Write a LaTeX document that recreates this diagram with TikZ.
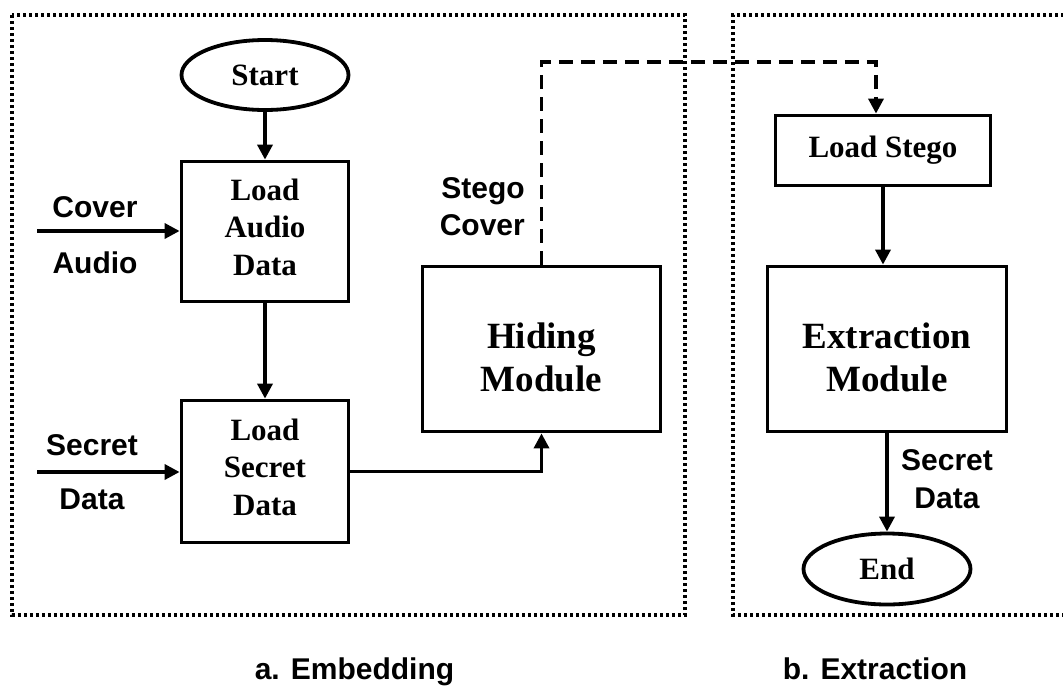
\documentclass[tikz,border=0pt]{standalone}
\usepackage{fontspec}
\setmainfont{Liberation Serif}
\newfontfamily\labfont{Liberation Sans}
\usetikzlibrary{arrows.meta,shapes.geometric}
\begin{document}
\begin{tikzpicture}[x=1pt,y=-1pt,
  box/.style={draw, line width=3.8pt, rectangle, inner sep=0pt, align=center,
    font=\fontsize{31}{37.5}\selectfont\bfseries},
  bigbox/.style={box, font=\fontsize{37}{43}\selectfont\bfseries},
  oval/.style={draw, line width=3.8pt, ellipse, inner sep=0pt,
    font=\fontsize{31}{37.5}\selectfont\bfseries},
  arr/.style={line width=3.5pt, -{Triangle[length=15pt,width=15pt]}},
  dasharr/.style={arr, dash pattern=on 14pt off 8pt},
  dotbox/.style={line width=3.5pt, dash pattern=on 3.2pt off 2.8pt},
  lab/.style={inner sep=0pt, font=\fontsize{30}{36}\labfont\bfseries}
]
\useasboundingbox (0,0) rectangle (1063,686);

% dotted frames
\draw[dotbox] (12,15) rectangle (685,615);
\draw[dotbox] (1070,15) -- (733,15) -- (733,615) -- (1070,615);

% embedding nodes
\node[oval, minimum width=167pt, minimum height=70pt] (start) at (265,75) {Start};
\node[box, minimum width=167pt, minimum height=140pt] (audio) at (265,231.5)
  {Load\\Audio\\Data\rule[-9pt]{0pt}{9pt}};
\node[box, minimum width=167pt, minimum height=142pt] (secret) at (265,471.5)
  {Load\\Secret\\Data\rule[-9pt]{0pt}{9pt}};
\node[bigbox, minimum width=238pt, minimum height=165pt] (hiding) at (541.5,349)
  {\rule{0pt}{43pt}Hiding\\Module};

% extraction nodes
\node[box, minimum width=215pt, minimum height=70pt] (stego) at (883,150.5) {Load Stego};
\node[bigbox, minimum width=239pt, minimum height=165pt] (extract) at (887,349)
  {\rule{0pt}{43pt}Extraction\\Module};
\node[oval, minimum width=167pt, minimum height=71pt] (end) at (887,569) {End};

% labels
\node[lab, anchor=base] (lcover) at (95,217) {Cover};
\node[lab, anchor=base] (laudio) at (95,273) {Audio};
\node[lab, anchor=base] (lsecret) at (92,455) {Secret};
\node[lab, anchor=base] (ldata) at (92,509) {Data};
\node[lab, anchor=base east] (lstego) at (525,198) {Stego};
\node[lab, anchor=base east] (lscover) at (525,235) {Cover};
\node[lab, anchor=base] (rsecret) at (947,470) {Secret};
\node[lab, anchor=base] (rdata) at (947,508) {Data};
\node[lab, anchor=base] (capa) at (354.5,679) {a. Embedding};
\node[lab, anchor=base] (capb) at (875,679) {b. Extraction};

% connectors
\coordinate (cin) at (37,231);
\coordinate (sin) at (37,472);
\coordinate (dturn) at (876,62);
\draw[arr] (start) -- (audio);
\draw[arr] (cin) -- (cin -| audio.west);
\draw[arr] (audio) -- (secret);
\draw[arr] (sin) -- (sin -| secret.west);
\draw[arr] (secret.east) -| (hiding.south);
\draw[dasharr] (hiding.north) |- (dturn) -- (dturn |- stego.north);
\draw[arr] (stego.south) -- (stego.south |- extract.north);
\draw[arr] (extract.south) -- (end.north);
\end{tikzpicture}
\end{document}
